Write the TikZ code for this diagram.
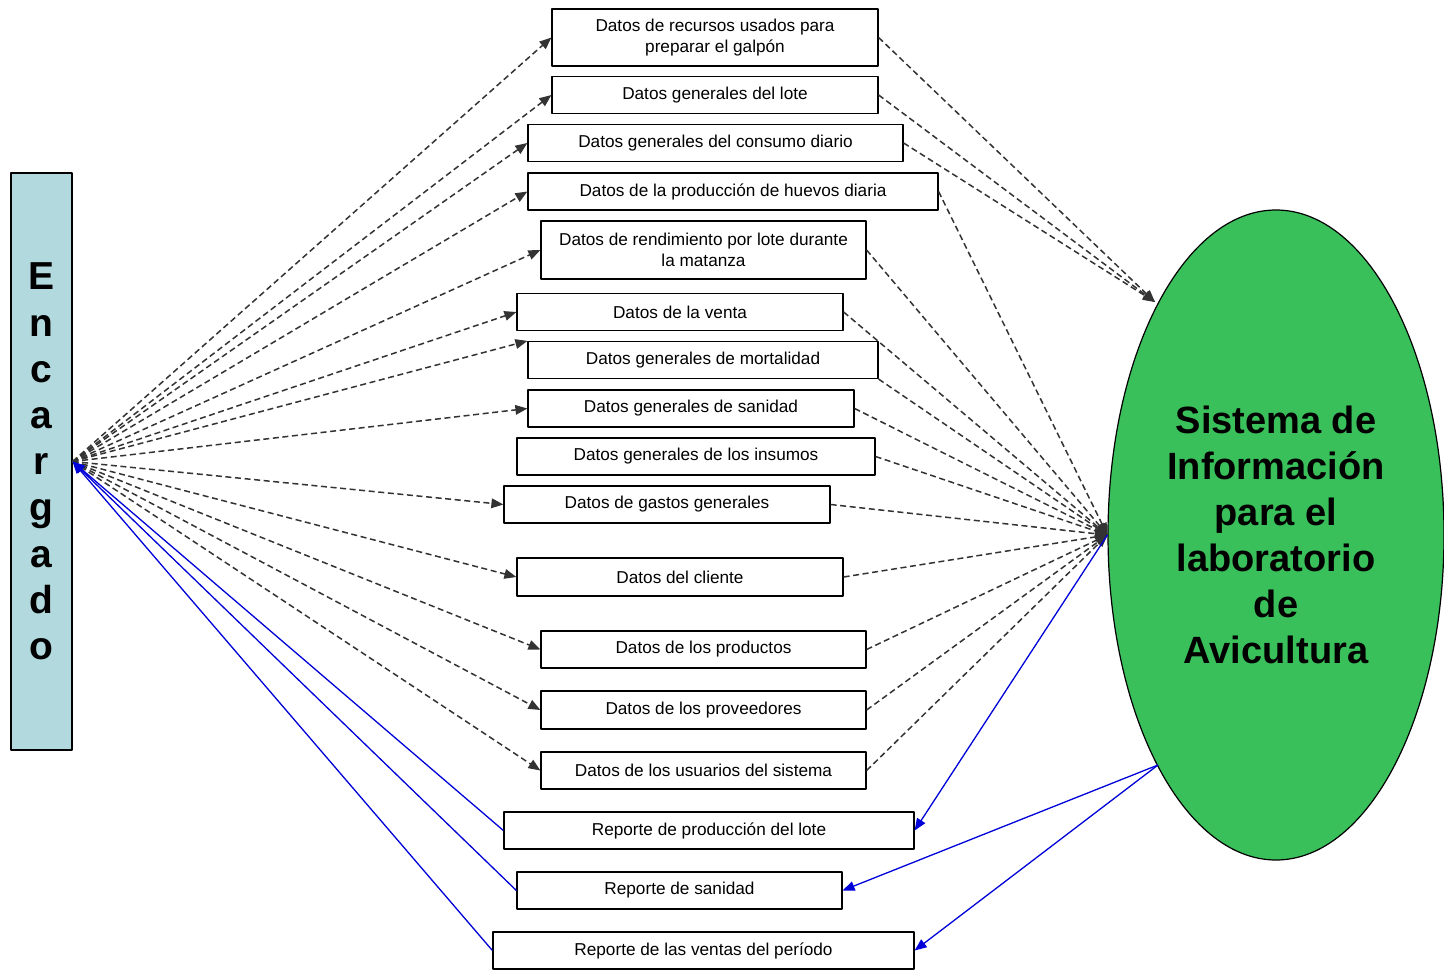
\documentclass[tikz,border=0pt]{standalone}
\usepackage{fontspec}
\setmainfont{Liberation Sans}
\usetikzlibrary{shapes.geometric,arrows.meta}
\definecolor{encfill}{RGB}{178,218,222}
\definecolor{sisfill}{RGB}{58,192,90}
\tikzset{
  dato/.style={draw,fill=white,line width=0.6pt,inner sep=0pt,minimum height=18.5pt,align=center,font=\fontsize{8.6}{10.5}\selectfont},
  flujo/.style={black!80,line width=0.75pt,dash pattern=on 3pt off 1.8pt,-{Triangle[length=6pt,width=4.8pt]}},
  reporte/.style={blue!85!black,line width=0.65pt,-{Triangle[length=6pt,width=4.8pt]}}
}
\begin{document}
\begin{tikzpicture}[x=0.5pt,y=-0.5pt,join=round] % Diagrama de contexto
       \useasboundingbox (0,0) rectangle (1444,973);
       \node[draw,fill=encfill,line width=0.6pt,minimum width=30.5pt,minimum height=288.5pt,inner sep=0pt,align=center,font=\fontsize{19.5}{23.1}\selectfont\bfseries] (enc) at (41.5,461.5) {E\\n\\c\\a\\r\\g\\a\\d\\o};
       \node[ellipse,draw,fill=sisfill,line width=0.6pt,minimum width=168pt,minimum height=325pt,inner sep=0pt,align=center,font=\fontsize{19}{23}\selectfont\bfseries] (sis) at (1276,535) {Sistema de\\Información\\para el\\laboratorio\\de\\Avicultura};
       \coordinate (sisarriba) at (1155,302);
       \coordinate (sisabajo) at (1158,765);
       \node[dato,minimum width=163pt,minimum height=28.5pt] (d1) at (715,37.5) {Datos de recursos usados para\\preparar el galpón};
       \node[dato,minimum width=163pt] (d2) at (715,95) {Datos generales del lote};
       \node[dato,minimum width=187.5pt] (d3) at (715.5,143) {Datos generales del consumo diario};
       \node[dato,minimum width=205pt] (d4) at (733,191.5) {Datos de la producción de huevos diaria};
       \node[dato,minimum width=162.5pt,minimum height=29pt] (d5) at (703.5,250) {Datos de rendimiento por lote durante\\la matanza};
       \node[dato,minimum width=163pt] (d6) at (680,312) {Datos de la venta};
       \node[dato,minimum width=175pt] (d7) at (703,360) {Datos generales de mortalidad};
       \node[dato,minimum width=163pt] (d8) at (691,408.5) {Datos generales de sanidad};
       \node[dato,minimum width=179pt] (d9) at (696,456.5) {Datos generales de los insumos};
       \node[dato,minimum width=163pt] (d10) at (667,504.5) {Datos de gastos generales};
       \node[dato,minimum width=163pt,minimum height=19pt] (d11) at (680,577) {Datos del cliente};
       \node[dato,minimum width=162.5pt] (d12) at (703.5,649.5) {Datos de los productos};
       \node[dato,minimum width=162.5pt,minimum height=19pt] (d13) at (703.5,710) {Datos de los proveedores};
       \node[dato,minimum width=162.5pt] (d14) at (703.5,770.5) {Datos de los usuarios del sistema};
       \node[dato,minimum width=205pt] (r1) at (709,830.5) {Reporte de producción del lote};
       \node[dato,minimum width=162.5pt] (r2) at (679.5,890.5) {Reporte de sanidad};
       \node[dato,minimum width=210.5pt] (r3) at (703.5,950.5) {Reporte de las ventas del período};
       \draw[flujo] (enc.east) -- (d1.west);
       \draw[flujo] (enc.east) -- (d2.west);
       \draw[flujo] (enc.east) -- (d3.west);
       \draw[flujo] (enc.east) -- (d4.west);
       \draw[flujo] (enc.east) -- (d5.west);
       \draw[flujo] (enc.east) -- (d6.west);
       \draw[flujo] (enc.east) -- (d7.north west);
       \draw[flujo] (enc.east) -- (d8.west);
       \draw[flujo] (enc.east) -- (d10.west);
       \draw[flujo] (enc.east) -- (d11.west);
       \draw[flujo] (enc.east) -- (d12.west);
       \draw[flujo] (enc.east) -- (d13.west);
       \draw[flujo] (enc.east) -- (d14.west);
       \draw[flujo] (d1.east) -- (sisarriba);
       \draw[flujo] (d2.east) -- (sisarriba);
       \draw[flujo] (d3.east) -- (sisarriba);
       \draw[flujo] (d4.east) -- (sis.west);
       \draw[flujo] (d5.east) -- (sis.west);
       \draw[flujo] (d6.east) -- (sis.west);
       \draw[flujo] (d7.south east) -- (sis.west);
       \draw[flujo] (d8.east) -- (sis.west);
       \draw[flujo] (d9.east) -- (sis.west);
       \draw[flujo] (d10.east) -- (sis.west);
       \draw[flujo] (d11.east) -- (sis.west);
       \draw[flujo] (d12.east) -- (sis.west);
       \draw[flujo] (d13.east) -- (sis.west);
       \draw[flujo] (d14.east) -- (sis.west);
       \draw[reporte] (r1.west) -- (enc.east);
       \draw[reporte] (r2.west) -- (enc.east);
       \draw[reporte] (r3.west) -- (enc.east);
       \draw[reporte] (sis.west) -- (r1.east);
       \draw[reporte] (sisabajo) -- (r2.east);
       \draw[reporte] (sisabajo) -- (r3.east);
\end{tikzpicture}
\end{document}
